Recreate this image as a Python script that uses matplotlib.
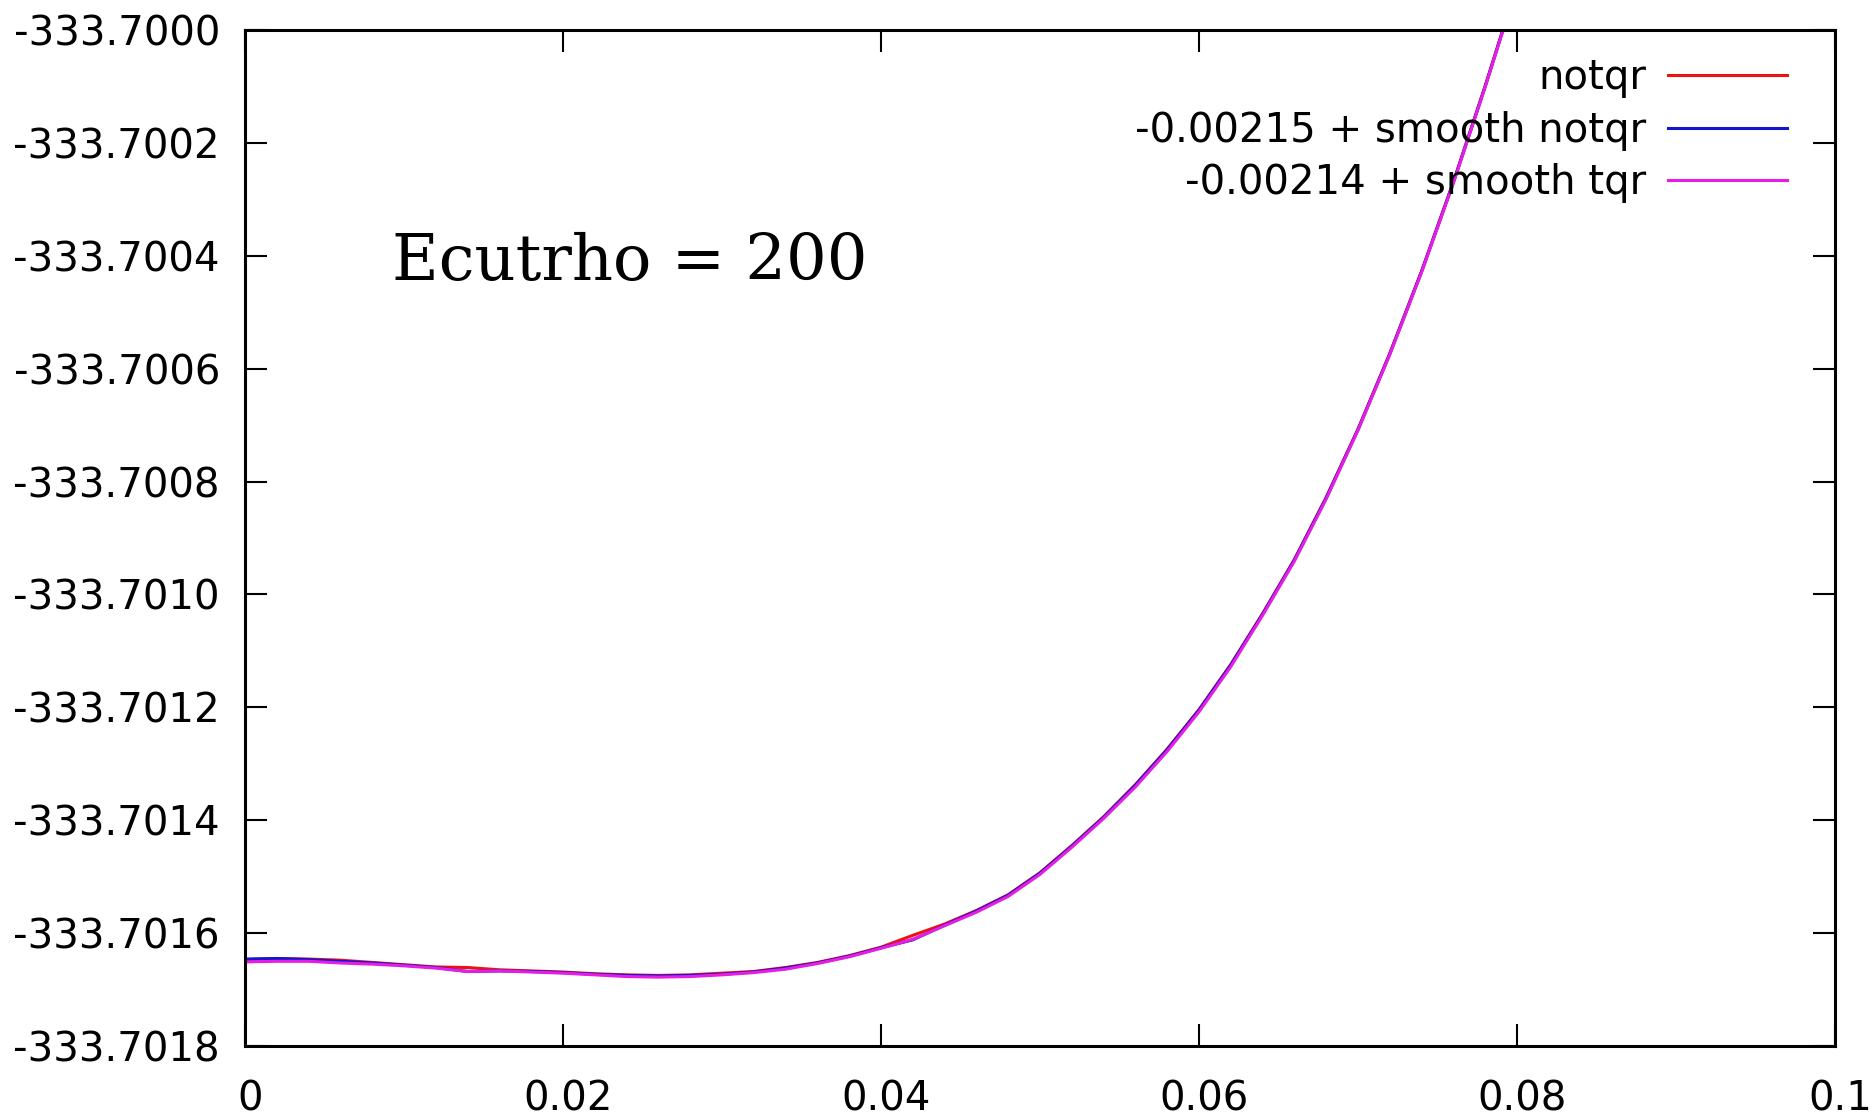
import numpy as np
import matplotlib
matplotlib.use('Agg')
import matplotlib.pyplot as plt
from matplotlib.transforms import ScaledTranslation

# x positions of the energy samples
x_vals = [0.000, 0.002, 0.004, 0.006, 0.008, 0.010, 0.012, 0.014, 0.016, 0.018,
          0.020, 0.022, 0.024, 0.026, 0.028, 0.030, 0.032, 0.034, 0.036, 0.038,
          0.040, 0.042, 0.044, 0.046, 0.048, 0.050, 0.052, 0.054, 0.056, 0.058,
          0.060, 0.062, 0.064, 0.066, 0.068, 0.070, 0.072, 0.074, 0.076, 0.078,
          0.080]

# energies below -333.7000, in units of 1e-4
notqr_drop = [16.47, 16.45, 16.46, 16.48, 16.52, 16.56, 16.60, 16.61, 16.65, 16.67,
              16.69, 16.72, 16.74, 16.75, 16.74, 16.71, 16.68, 16.61, 16.52, 16.40,
              16.25, 16.04, 15.84, 15.60, 15.32, 14.93, 14.45, 13.94, 13.37, 12.74,
              12.04, 11.24, 10.34, 9.38, 8.28, 7.07, 5.73, 4.27, 2.69, 0.99,
              -0.80]
smooth_notqr_drop = [16.46, 16.45, 16.47, 16.50, 16.53, 16.57, 16.61, 16.68, 16.67, 16.68,
                     16.70, 16.73, 16.75, 16.76, 16.75, 16.73, 16.69, 16.62, 16.53, 16.41,
                     16.26, 16.12, 15.86, 15.61, 15.33, 14.94, 14.46, 13.95, 13.38, 12.75,
                     12.05, 11.25, 10.35, 9.39, 8.29, 7.08, 5.74, 4.28, 2.70, 1.00,
                     -0.79]
smooth_tqr_drop = [16.51, 16.50, 16.50, 16.53, 16.55, 16.58, 16.62, 16.68, 16.67, 16.69,
                   16.71, 16.74, 16.77, 16.78, 16.77, 16.74, 16.70, 16.64, 16.54, 16.42,
                   16.27, 16.11, 15.87, 15.63, 15.35, 14.96, 14.48, 13.97, 13.41, 12.78,
                   12.08, 11.28, 10.37, 9.41, 8.31, 7.09, 5.75, 4.29, 2.71, 1.01,
                   -0.78]

labels = ['notqr', '-0.00215 + smooth notqr', '-0.00214 + smooth tqr']
colors = ['#ee1111', '#1515cc', '#e51ee5']
y_ticks = [-333.7018, -333.7016, -333.7014, -333.7012, -333.7010,
           -333.7008, -333.7006, -333.7004, -333.7002, -333.7000]
x_ticks = [0, 0.02, 0.04, 0.06, 0.08, 0.1]
x_tick_labels = ['0', '0.02', '0.04', '0.06', '0.08', '0.1']

plt.rcParams['font.family'] = ['DejaVu Sans']

fig = plt.figure(figsize=(18.74, 11.15), dpi=100)
ax = fig.add_axes([0.1307, 0.0619, 0.8485, 0.9112])

x = np.array(x_vals)
for drop, label, color in zip([notqr_drop, smooth_notqr_drop, smooth_tqr_drop], labels, colors):
    ax.plot(x, -333.7 - np.array(drop) * 1e-4, color=color, lw=2.2, label=label)

ax.set_xlim(0, 0.1)
ax.set_ylim(-333.7018, -333.7000)
ax.set_xticks(x_ticks)
ax.set_xticklabels(x_tick_labels)
ax.set_yticks(y_ticks)
ax.set_yticklabels([f'{t:.4f}' for t in y_ticks])

ax.tick_params(direction='in', length=15.8, width=1.5, labelsize=29,
               top=True, right=True)
ax.tick_params(axis='y', pad=18)
ax.tick_params(axis='x', pad=24)
for spine in ax.spines.values():
    spine.set_linewidth(2.2)

# gnuplot puts its x labels a few pixels right of the tick
shift = ScaledTranslation(5 / 100, 0, fig.dpi_scale_trans)
for lbl in ax.get_xticklabels():
    lbl.set_transform(lbl.get_transform() + shift)

ax.text(0.0925, 0.754, 'Ecutrho = 200', transform=ax.transAxes,
        family='DejaVu Serif', fontsize=46, va='baseline', ha='left')

ax.legend(loc='upper right', bbox_to_anchor=(0.970, 0.972), frameon=False,
          markerfirst=False, fontsize=29, handlelength=2.95, handletextpad=0.56,
          labelspacing=0.31, borderpad=0, borderaxespad=0)

fig.savefig('out.png', dpi=100)
